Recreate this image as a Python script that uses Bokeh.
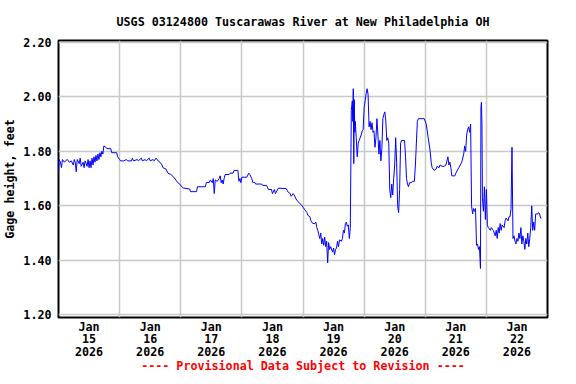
from bokeh.plotting import figure
from bokeh.models import FixedTicker, Range1d, PrintfTickFormatter
from bokeh.embed import file_html
from bokeh.resources import INLINE

# ---- data (hours since 2026-01-15 00:00, gage height in feet) ----
hours = [
    0.00, 0.19, 0.77, 1.16, 1.55, 2.32, 2.71, 3.48, 4.26, 5.03, 5.81, 6.19, 6.58, 6.97, 7.35, 8.13,
    8.52, 8.90, 9.68, 10.06, 10.45, 11.23, 11.61, 12.00, 12.39, 12.77, 13.16, 13.55, 13.94, 14.32,
    14.71, 15.10, 15.48, 15.87, 16.26, 16.65, 17.03, 17.42, 17.81, 18.58, 18.97, 20.52, 20.90, 22.84,
    23.23, 24.00, 24.39, 25.55, 26.71, 27.10, 28.65, 29.03, 29.42, 30.97, 31.35, 32.52, 32.90, 34.06,
    34.45, 35.61, 36.00, 37.16, 37.55, 38.32, 39.10, 39.87, 40.65, 41.03, 42.19, 42.97, 44.13, 45.29,
    46.06, 46.84, 47.61, 48.39, 49.16, 51.48, 51.87, 54.19, 54.58, 57.68, 58.06, 59.23, 59.61, 60.39,
    60.77, 61.16, 61.55, 62.32, 63.10, 63.48, 63.87, 64.26, 64.65, 65.03, 65.42, 66.97, 67.35, 68.52,
    68.90, 70.45, 70.84, 71.23, 71.61, 72.00, 73.94, 74.71, 75.10, 75.87, 76.26, 77.03, 77.42, 79.74,
    80.13, 81.68, 82.45, 83.61, 84.00, 84.77, 85.16, 86.32, 89.42, 90.19, 90.97, 91.35, 92.13, 92.52,
    93.29, 94.06, 95.23, 96.00, 96.77, 97.55, 97.94, 98.71, 99.10, 99.87, 100.65, 101.03, 101.42,
    101.81, 102.19, 102.58, 102.97, 103.35, 103.74, 104.13, 104.52, 104.90, 105.29, 105.68, 106.06,
    106.45, 106.84, 107.61, 108.00, 108.39, 108.77, 109.16, 109.55, 109.94, 110.32, 111.10, 111.48,
    111.87, 112.26, 112.65, 113.03, 113.42, 113.81, 114.19, 114.58, 114.97, 115.35, 115.55, 115.74,
    115.94, 116.13, 116.32, 116.52, 116.90, 117.29, 117.68, 118.06, 118.84, 119.23, 119.61, 120.00,
    120.39, 120.77, 121.16, 121.55, 121.94, 122.32, 122.71, 123.10, 123.48, 123.87, 124.26, 124.65,
    125.03, 125.42, 125.81, 126.19, 126.58, 126.97, 127.35, 127.74, 128.13, 128.52, 128.90, 129.29,
    129.68, 130.06, 130.45, 130.84, 131.23, 131.61, 132.00, 132.39, 132.77, 133.16, 133.55, 133.94,
    134.32, 134.71, 135.87, 136.26, 136.65, 137.03, 137.42, 137.81, 138.58, 138.97, 139.74, 140.13,
    140.52, 140.90, 141.29, 143.61, 144.39, 145.16, 145.94, 146.32, 146.71, 147.48, 148.26, 148.65,
    149.42, 149.81, 150.58, 151.35, 152.13, 152.90, 153.29, 153.68, 154.06, 154.45, 155.61, 156.00,
    157.16, 158.32, 159.10, 159.48, 159.87, 160.26, 160.65, 161.03, 161.42, 161.81, 162.19, 162.58,
    162.97, 163.35, 163.74, 164.13, 164.52, 164.90, 165.29, 165.68, 165.87, 166.06, 166.26, 166.45,
    166.84, 167.23, 167.61, 168.00, 168.39, 168.77, 169.55, 169.94, 170.71, 171.10, 171.48, 171.87,
    172.26, 172.65, 173.03, 173.42, 173.81, 174.19, 174.97, 175.35, 175.74, 176.52, 176.90, 177.29,
    177.68, 178.06, 178.45, 178.84, 179.23, 179.61, 180.00, 180.39, 180.77, 181.16, 181.55, 181.94,
    182.32, 182.71, 183.10, 183.48, 183.87, 184.26, 184.65, 185.03, 185.42, 185.81, 186.19, 186.58,
    186.97, 187.35, 188.13, 188.52, 188.90, 189.29, 189.68,
]
gage_height = [
    1.72, 1.77, 1.76, 1.74, 1.77, 1.76, 1.765, 1.77, 1.76, 1.765, 1.75, 1.77, 1.76, 1.725, 1.77, 1.755,
    1.775, 1.745, 1.76, 1.74, 1.765, 1.745, 1.77, 1.74, 1.765, 1.74, 1.775, 1.75, 1.78, 1.76,
    1.785, 1.765, 1.79, 1.77, 1.795, 1.78, 1.80, 1.79, 1.82, 1.815, 1.81, 1.81, 1.795, 1.795,
    1.78, 1.77, 1.765, 1.765, 1.77, 1.765, 1.765, 1.775, 1.765, 1.77, 1.765, 1.775, 1.765, 1.77,
    1.765, 1.775, 1.765, 1.77, 1.765, 1.775, 1.765, 1.76, 1.75, 1.74, 1.735, 1.72, 1.715, 1.705,
    1.695, 1.685, 1.68, 1.67, 1.665, 1.662, 1.652, 1.652, 1.67, 1.67, 1.686, 1.686, 1.695, 1.685,
    1.70, 1.645, 1.695, 1.69, 1.70, 1.71, 1.685, 1.695, 1.68, 1.70, 1.715, 1.715, 1.72, 1.72,
    1.73, 1.73, 1.69, 1.70, 1.685, 1.705, 1.705, 1.72, 1.715, 1.70, 1.686, 1.686, 1.68, 1.68,
    1.675, 1.675, 1.66, 1.66, 1.645, 1.66, 1.645, 1.665, 1.663, 1.65, 1.645, 1.635, 1.645, 1.64,
    1.625, 1.615, 1.605, 1.595, 1.585, 1.575, 1.565, 1.56, 1.545, 1.535, 1.535, 1.54, 1.52,
    1.51, 1.495, 1.48, 1.50, 1.46, 1.48, 1.455, 1.485, 1.45, 1.47, 1.39, 1.465,
    1.44, 1.45, 1.43, 1.445, 1.42, 1.44, 1.445, 1.47, 1.45, 1.475, 1.47, 1.48,
    1.51, 1.50, 1.535, 1.54, 1.525, 1.53, 1.48, 1.52, 1.95, 1.985, 1.91, 2.03,
    1.755, 1.99, 1.87, 1.91, 1.85, 1.78, 1.83, 1.84, 1.86, 1.875, 1.88, 1.96,
    1.985, 2.01, 2.03, 2.01, 1.89, 1.91, 1.88, 1.905, 1.87, 1.875, 1.815, 1.85,
    1.92, 1.86, 1.79, 1.84, 1.765, 1.81, 1.92, 1.935, 1.945, 1.91, 1.84, 1.85,
    1.83, 1.66, 1.63, 1.68, 1.64, 1.70, 1.75, 1.85, 1.76, 1.60, 1.575, 1.66,
    1.83, 1.84, 1.84, 1.78, 1.70, 1.68, 1.67, 1.685, 1.685, 1.69, 1.69, 1.75,
    1.83, 1.91, 1.92, 1.92, 1.90, 1.85, 1.80, 1.76, 1.74, 1.73, 1.735, 1.745,
    1.74, 1.75, 1.745, 1.745, 1.75, 1.78, 1.75, 1.76, 1.74, 1.71, 1.71, 1.72,
    1.74, 1.76, 1.79, 1.82, 1.80, 1.86, 1.88, 1.89, 1.87, 1.90, 1.60, 1.57,
    1.59, 1.58, 1.59, 1.455, 1.46, 1.44, 1.45, 1.37, 1.96, 1.98, 1.90, 1.63,
    1.58, 1.67, 1.55, 1.66, 1.53, 1.52, 1.51, 1.52, 1.51, 1.50, 1.49, 1.51,
    1.48, 1.52, 1.50, 1.535, 1.51, 1.53, 1.52, 1.545, 1.555, 1.545, 1.56, 1.56,
    1.59, 1.815, 1.48, 1.49, 1.47, 1.46, 1.48, 1.47, 1.50, 1.48, 1.52, 1.46,
    1.49, 1.47, 1.44, 1.48, 1.46, 1.50, 1.45, 1.48, 1.52, 1.60, 1.51, 1.54,
    1.51, 1.57, 1.57, 1.575, 1.57, 1.555, 1.555,
]

title_text = "USGS 03124800 Tuscarawas River at New Philadelphia OH"
y_label = "Gage height, feet"
footer_text = "---- Provisional Data Subject to Revision ----"
y_ticks = [1.20, 1.40, 1.60, 1.80, 2.00, 2.20]
day_labels = ["Jan\n15\n2026", "Jan\n16\n2026", "Jan\n17\n2026", "Jan\n18\n2026",
              "Jan\n19\n2026", "Jan\n20\n2026", "Jan\n21\n2026", "Jan\n22\n2026"]

FONT = "DejaVu Sans Mono"
FS = "11.7px"

p = figure(width=560, height=376, output_backend="svg", toolbar_location=None,
           x_range=Range1d(0, 192), y_range=Range1d(1.19, 2.207),
           min_border_left=51, min_border_right=13, min_border_top=40, min_border_bottom=59,
           background_fill_color="white", border_fill_color="white")

p.line(hours, gage_height, line_color="#0000ff", line_width=1)

# title
p.title.text = title_text
p.title.align = "center"
p.title.text_font = FONT
p.title.text_font_size = FS
p.title.text_font_style = "bold"
p.title.text_color = "black"
p.title.standoff = 24

# axes
label_ticks = [12 + 24 * i for i in range(len(day_labels))]
p.xaxis.ticker = FixedTicker(ticks=label_ticks)
p.xaxis.major_label_overrides = {t: lab for t, lab in zip(label_ticks, day_labels)}
p.xaxis.axis_label = footer_text          # provisional-data notice under the dates
p.yaxis.ticker = FixedTicker(ticks=y_ticks)
p.yaxis.formatter = PrintfTickFormatter(format="%.2f")
p.yaxis.axis_label = y_label

for ax in (p.xaxis[0], p.yaxis[0]):
    ax.axis_line_color = None
    ax.major_tick_line_color = None
    ax.minor_tick_line_color = None
    ax.major_tick_in = 0
    ax.major_tick_out = 0
    ax.major_label_text_font = FONT
    ax.major_label_text_font_size = FS
    ax.major_label_text_font_style = "bold"
    ax.major_label_text_color = "black"
    ax.axis_label_text_font = FONT
    ax.axis_label_text_font_size = FS
    ax.axis_label_text_font_style = "bold"
    ax.axis_label_text_color = "black"

p.xaxis.axis_label_text_color = "#ff0000"
p.xaxis.axis_label_standoff = -3
p.xaxis.major_label_standoff = 2
p.xaxis.major_label_text_line_height = 0.92
p.yaxis.major_label_standoff = 7
p.yaxis.axis_label_standoff = 3

# grid
p.xgrid.ticker = FixedTicker(ticks=[24 * i for i in range(1, 8)])
p.ygrid.ticker = FixedTicker(ticks=y_ticks)
p.grid.grid_line_color = "#c8c8c8"
p.grid.grid_line_width = 1.5

p.outline_line_color = "black"
p.outline_line_width = 2
p.outline_line_alpha = 1

open("out.html", "w").write(file_html(p, INLINE))
